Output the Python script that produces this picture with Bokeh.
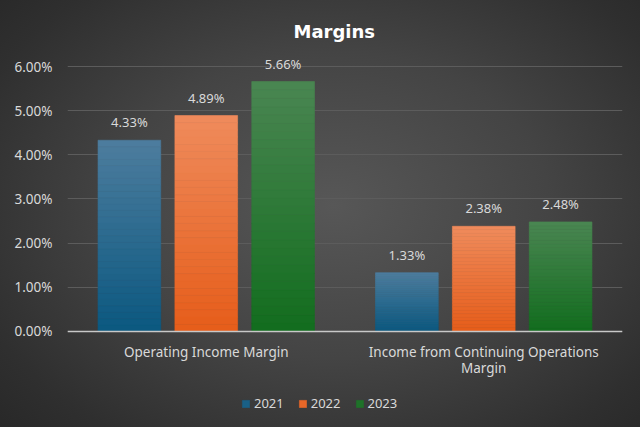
from bokeh.plotting import figure
from bokeh.models import (FactorRange, Range1d, NumeralTickFormatter, Legend, LegendItem,
                          ColumnDataSource, FixedTicker)
from bokeh.transform import dodge
from bokeh.core.properties import value
from bokeh.embed import file_html
from bokeh.resources import INLINE

categories = ["Operating Income Margin", "Income from Continuing Operations\nMargin"]
years = ["2021", "2022", "2023"]
margin_2021 = [0.0433, 0.0133]
margin_2022 = [0.0489, 0.0238]
margin_2023 = [0.0566, 0.0248]
series = [margin_2021, margin_2022, margin_2023]
y_ticks = [0.0, 0.01, 0.02, 0.03, 0.04, 0.05, 0.06]

top_colors = [(0x4d, 0x7d, 0x9e), (0xef, 0x8b, 0x5c), (0x4a, 0x86, 0x52)]
bot_colors = [(0x0b, 0x58, 0x80), (0xe6, 0x5d, 0x1a), (0x12, 0x6d, 0x1e)]
offsets = [-0.277, 0.0, 0.277]
bar_w = 0.226
N = 30
LEGEND_SLICE = 6

FONT = "Noto Sans"
TXT = "#d9d9d9"

p = figure(width=640, height=427, x_range=FactorRange(factors=categories, range_padding=0),
           y_range=Range1d(-0.0202, 0.0625), output_backend="svg", toolbar_location=None,
           min_border_left=67, min_border_right=18, min_border_top=55, min_border_bottom=7)
p.styles = {"background": "radial-gradient(ellipse 75% 80% at 52% 48%, #575757 0%, #444444 45%, #2f2f2f 80%, #262626 100%)"}
p.border_fill_color = None
p.background_fill_color = None
p.outline_line_color = None

def hx(c):
    return "#%02x%02x%02x" % c

items = []
for si, vals in enumerate(series):
    legend_r = None
    for k in range(N):
        f0 = k / N
        f1 = (k + 1) / N
        t = (k + 0.5) / N
        col = tuple(int(round(bot_colors[si][j] + (top_colors[si][j] - bot_colors[si][j]) * t)) for j in range(3))
        src = ColumnDataSource(dict(x=categories, b=[v * f0 for v in vals], t=[v * f1 for v in vals]))
        r = p.vbar(x=dodge("x", offsets[si], range=p.x_range), bottom="b", top="t", width=bar_w,
                   source=src, fill_color=hx(col), line_color=hx(col), line_width=0.6)
        if k == LEGEND_SLICE:
            legend_r = r
    items.append(LegendItem(label=years[si], renderers=[legend_r]))
    lsrc = ColumnDataSource(dict(x=categories, y=vals, lab=["%.2f%%" % (v * 100) for v in vals]))
    p.text(x=dodge("x", offsets[si], range=p.x_range), y="y", text="lab", source=lsrc,
           text_align="center", text_baseline="bottom", y_offset=-9,
           text_color=TXT, text_font=value(FONT), text_font_size="13px")

legend = Legend(items=items, orientation="horizontal", location=(174, 8),
                background_fill_alpha=0, border_line_color=None,
                label_text_color=TXT, label_text_font=FONT, label_text_font_size="13px",
                glyph_width=9, glyph_height=9, label_standoff=4, spacing=14, padding=0, margin=0,
                label_height=12)
p.add_layout(legend, "center")

p.title.text = "Margins"
p.title.text_color = "#ffffff"
p.title.text_font = "DejaVu Sans"
p.title.text_font_style = "bold"
p.title.text_font_size = "18px"
p.title.align = "left"
p.title.offset = 226
p.title.standoff = 28

p.xgrid.grid_line_color = None
p.ygrid.grid_line_color = "#5c5c5c"
p.ygrid.grid_line_width = 1
p.yaxis.ticker = FixedTicker(ticks=y_ticks)
p.yaxis.formatter = NumeralTickFormatter(format="0.00%")
p.yaxis.axis_line_color = None
p.yaxis.major_tick_line_color = None
p.yaxis.minor_tick_line_color = None
p.yaxis.major_label_text_color = TXT
p.yaxis.major_label_text_font = FONT
p.yaxis.major_label_text_font_size = "13.5px"
p.yaxis.major_label_standoff = 9

p.xaxis.fixed_location = 0
p.xaxis.axis_line_color = "#c8c8c8"
p.xaxis.axis_line_width = 1.5
p.xaxis.major_tick_line_color = None
p.xaxis.minor_tick_line_color = None
p.xaxis.major_label_text_color = TXT
p.xaxis.major_label_text_font = FONT
p.xaxis.major_label_text_font_size = "13.5px"
p.xaxis.major_label_text_line_height = 0.85
p.xaxis.major_label_standoff = 6

open("out.html", "w").write(file_html(p, INLINE))
